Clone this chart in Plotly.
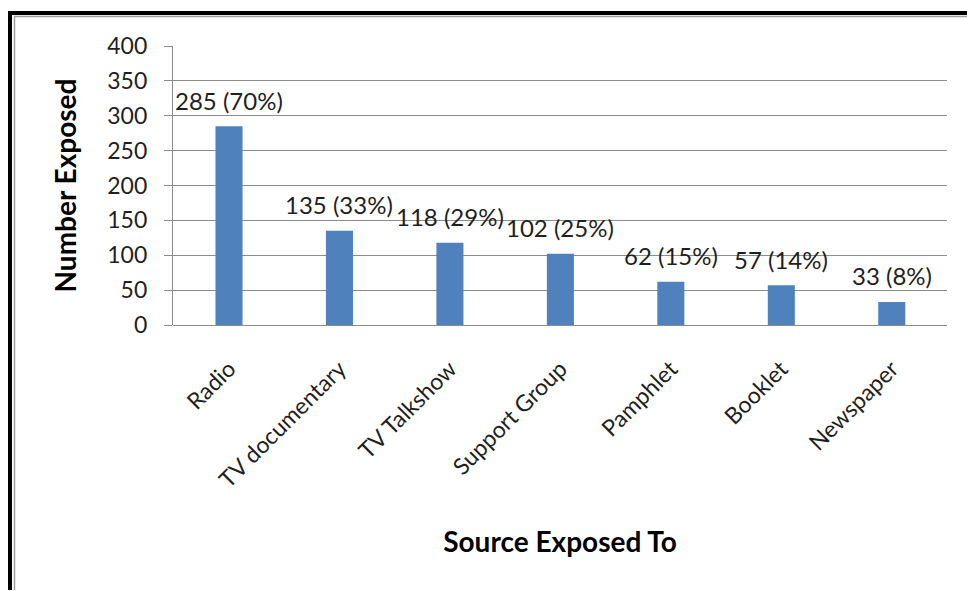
import plotly.graph_objects as go

# Exposure counts by information source
sources = ["Radio", "TV documentary", "TV Talkshow", "Support Group",
           "Pamphlet", "Booklet", "Newspaper"]
exposed = [285, 135, 118, 102, 62, 57, 33]
percent = [70, 33, 29, 25, 15, 14, 8]
y_ticks = [0, 50, 100, 150, 200, 250, 300, 350, 400]

W, H = 967, 591
L, R, T, B = 173, 20, 46, 265.5
plot_w = W - L - R
plot_h = H - T - B

FONT = "Lato"
TEXT = "#1f1f1f"
GRID = "#8c8c8c"


def px_to_paper_x(px):
    return (px - L) / plot_w


def px_to_paper_y(py):
    return (H - B - py) / plot_h


fig = go.Figure(
    go.Bar(
        x=sources,
        y=exposed,
        width=0.245,
        marker=dict(color="#4F81BD", line=dict(width=0)),
        hoverinfo="skip",
    )
)

# value labels above bars
for s, v, p in zip(sources, exposed, percent):
    fig.add_annotation(
        x=s, y=v, xref="x", yref="y",
        text=f"{v} ({p}%)", showarrow=False,
        yanchor="middle", yshift=26,
        font=dict(family=FONT, size=24, color=TEXT),
    )

# picture frame: thick black rule with thin grey inner rule (top and left)
frame = [
    dict(x0=8, x1=W, y0=13, y1=13, w=4, c="#000000"),
    dict(x0=14, x1=W, y0=16.5, y1=16.5, w=1.5, c="#a0a0a0"),
    dict(x0=10, x1=10, y0=11, y1=H, w=4, c="#000000"),
    dict(x0=14.5, x1=14.5, y0=16, y1=H, w=1.5, c="#a0a0a0"),
]
for f in frame:
    fig.add_shape(
        type="line", xref="paper", yref="paper",
        x0=px_to_paper_x(f["x0"]), x1=px_to_paper_x(f["x1"]),
        y0=px_to_paper_y(f["y0"]), y1=px_to_paper_y(f["y1"]),
        line=dict(color=f["c"], width=f["w"]),
    )

fig.update_layout(
    width=W, height=H,
    margin=dict(l=L, r=R, t=T, b=B, pad=0),
    paper_bgcolor="white", plot_bgcolor="white",
    showlegend=False,
    font=dict(family=FONT, size=23, color=TEXT),
    xaxis=dict(
        tickangle=-45,
        tickfont=dict(family=FONT, size=23, color=TEXT),
        showgrid=False,
        showline=False,
        ticks="",
        ticklabelstandoff=25,
        title=dict(text="<b>Source Exposed To</b>",
                   font=dict(family=FONT, size=28, color="#000000"),
                   standoff=40),
    ),
    yaxis=dict(
        range=[0, 400],
        tickvals=y_ticks,
        ticktext=[str(t) for t in y_ticks],
        tickfont=dict(family=FONT, size=23, color=TEXT),
        showgrid=True, gridcolor=GRID, gridwidth=1.2,
        showline=True, linecolor=GRID, linewidth=1.2,
        ticks="outside", ticklen=8, tickcolor=GRID, tickwidth=1.2,
        ticklabelstandoff=12,
        zeroline=True, zerolinecolor=GRID, zerolinewidth=1.2,
        title=dict(text="<b>Number Exposed</b>",
                   font=dict(family=FONT, size=28, color="#000000"),
                   standoff=22),
    ),
)

fig.write_html("out.html")
